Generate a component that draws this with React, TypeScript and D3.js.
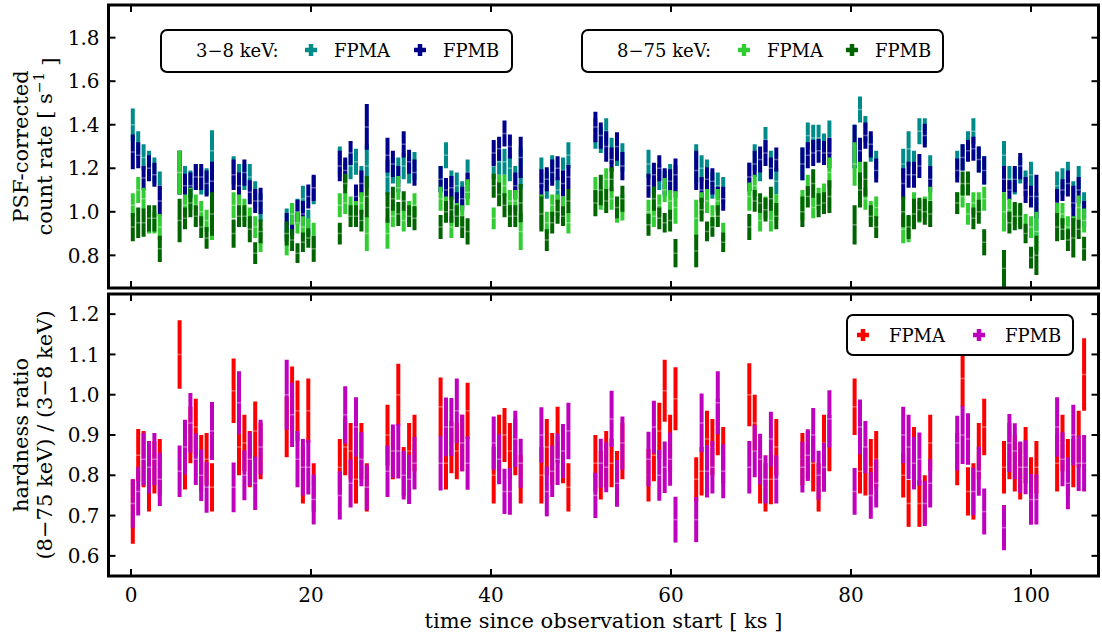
import React from 'react';
import * as d3 from 'd3';

// ---------- data ----------
const time = [
  0.2, 0.8, 1.4, 2.0, 2.6, 3.2,
  5.4, 6.0, 6.6, 7.2, 7.8, 8.4, 9.0,
  11.4, 12.0, 12.6, 13.2, 13.8, 14.4,
  17.3, 17.9, 18.5, 19.1, 19.7, 20.3,
  23.2, 23.8, 24.4, 25.0, 25.6, 26.2,
  28.5, 29.1, 29.7, 30.3, 30.9, 31.5,
  34.4, 35.0, 35.6, 36.2, 36.8, 37.4,
  40.3, 40.9, 41.5, 42.1, 42.7, 43.3,
  45.6, 46.2, 46.8, 47.4, 48.0, 48.6,
  51.6, 52.2, 52.8, 53.4, 54.0, 54.6,
  57.5, 58.1, 58.7, 59.3, 59.9, 60.5,
  62.8, 63.4, 64.0, 64.6, 65.2, 65.8,
  68.7, 69.3, 69.9, 70.5, 71.1, 71.7,
  74.6, 75.2, 75.8, 76.4, 77.0, 77.6,
  80.4, 81.0, 81.6, 82.2, 82.8,
  85.8, 86.4, 87.0, 87.6, 88.2, 88.8,
  91.8, 92.4, 93.0, 93.6, 94.2, 94.8,
  97.0, 97.6, 98.2, 98.8, 99.4, 100.0, 100.6,
  102.9, 103.5, 104.1, 104.7, 105.3, 105.9,
];

// 3-8 keV FPMA
const soft_A = [
  1.40, 1.31, 1.25, 1.22, 1.19, 1.12,
  1.18, 1.15, 1.13, 1.16, 1.14, 1.14, 1.28,
  1.19, 1.16, 1.16, 1.16, 1.08, 1.02,
  0.95, 0.98, 1.00, 1.06, 0.95, 1.10,
  1.23, 1.17, 1.21, 1.23, 1.15, 1.21,
  1.16, 1.19, 1.19, 1.21, 1.19, 1.21,
  1.15, 1.26, 1.13, 1.12, 1.08, 1.18,
  1.21, 1.23, 1.23, 1.20, 1.15, 1.20,
  1.18, 1.12, 1.20, 1.10, 1.19, 1.26,
  1.36, 1.33, 1.37, 1.28, 1.27, 1.25,
  1.22, 1.14, 1.16, 1.13, 1.16, 1.14,
  1.22, 1.20, 1.18, 1.12, 1.12, 1.10,
  1.16, 1.25, 1.20, 1.33, 1.22, 1.14,
  1.22, 1.35, 1.34, 1.34, 1.30, 1.34,
  1.30, 1.47, 1.38, 1.29, 1.22,
  1.22, 1.29, 1.22, 1.37, 1.37, 1.20,
  1.22, 1.25, 1.31, 1.37, 1.24, 1.19,
  1.26, 1.15, 1.14, 1.19, 1.13, 1.17, 0.99,
  1.12, 1.14, 1.17, 1.08, 1.15, 1.03,
];
// 3-8 keV FPMB
const soft_B = [
  1.275, 1.26, 1.155, 1.20, 1.17, 1.05,
  1.18, 1.12, 1.12, 1.16, 1.16, 1.13, 1.14,
  1.17, 1.12, 1.18, 1.09, 1.05, 1.05,
  0.93, 0.95, 1.00, 0.99, 1.07, 1.11,
  1.21, 1.19, 1.27, 1.07, 1.13, 1.39,
  1.26, 1.22, 1.15, 1.31, 1.23, 1.18,
  1.15, 1.10, 1.11, 1.03, 1.06, 1.12,
  1.27, 1.29, 1.36, 1.30, 1.12, 1.25,
  1.13, 1.15, 1.18, 1.20, 1.13, 1.16,
  1.39, 1.35, 1.30, 1.24, 1.30, 1.21,
  1.12, 1.17, 1.20, 1.14, 1.14, 1.17,
  1.19, 1.10, 1.15, 1.14, 1.06, 1.06,
  1.16, 1.22, 1.24, 1.27, 1.20, 1.24,
  1.22, 1.26, 1.27, 1.28, 1.27, 1.27,
  1.30, 1.28, 1.35, 1.31, 1.19,
  1.13, 1.17, 1.17, 1.21, 1.35, 1.15,
  1.19, 1.25, 1.28, 1.29, 1.24, 1.19,
  1.15, 1.10, 1.15, 1.21, 1.10, 1.07, 1.07,
  1.04, 1.10, 1.13, 1.04, 1.10, 0.99,
];
// 8-75 keV FPMA
const hard_A = [
  1.03, 1.10, 1.06, 0.95, 0.95, 0.93,
  1.18, 1.03, 1.06, 1.03, 1.00, 0.96, 0.97,
  1.03, 1.03, 1.01, 0.97, 0.93, 0.87,
  0.86, 0.99, 0.95, 0.93, 0.92, 0.89,
  1.03, 1.04, 1.02, 1.00, 1.04, 0.90,
  0.90, 0.98, 1.11, 0.96, 1.00, 1.03,
  1.06, 1.02, 0.93, 0.99, 0.98, 1.09,
  0.97, 1.12, 1.12, 1.05, 1.05, 0.91,
  1.00, 0.95, 1.03, 1.03, 1.02, 0.95,
  1.10, 1.06, 1.15, 1.06, 1.00, 1.02,
  1.00, 0.98, 1.03, 1.10, 1.05, 1.02,
  0.97, 1.04, 1.05, 0.98, 1.05, 0.90,
  1.07, 1.12, 0.96, 1.02, 0.96, 1.02,
  1.03, 1.12, 1.02, 1.06, 1.08, 1.18,
  1.22, 1.15, 1.06, 1.00, 1.02,
  0.92, 0.92, 1.04, 1.00, 1.02, 1.05,
  1.04, 1.07, 0.99, 1.04, 1.04, 1.06,
  1.00, 1.01, 0.99, 0.98, 0.94, 0.93, 0.91,
  0.98, 0.99, 0.93, 0.93, 1.02, 0.96,
];
// 8-75 keV FPMB
const hard_B = [
  0.93, 0.95, 0.95, 0.97, 0.97, 0.83,
  0.96, 0.97, 1.04, 0.98, 0.93, 0.88, 0.99,
  0.90, 0.98, 0.98, 0.92, 0.81, 0.91,
  0.90, 0.87, 0.81, 0.86, 0.88, 0.83,
  0.90, 1.13, 0.98, 0.98, 0.96, 1.07,
  1.02, 1.06, 0.99, 1.05, 0.98, 0.97,
  0.93, 1.00, 1.01, 0.98, 0.93, 0.91,
  1.12, 1.08, 1.03, 0.98, 0.98, 1.04,
  0.99, 0.87, 0.95, 1.00, 0.98, 1.05,
  1.04, 1.10, 1.05, 1.15, 1.02, 1.06,
  0.94, 1.06, 0.97, 0.95, 0.96, 0.81,
  0.82, 1.01, 0.91, 0.93, 0.98, 0.86,
  0.93, 1.05, 1.04, 1.01, 1.06, 0.98,
  1.00, 1.07, 1.13, 1.03, 1.04, 1.07,
  0.94, 1.10, 1.15, 0.98, 0.93,
  1.00, 0.93, 0.99, 1.01, 1.00, 0.99,
  1.04, 1.13, 1.13, 0.97, 1.00, 0.86,
  0.74, 0.95, 0.98, 0.98, 0.90, 0.79, 0.80,
  0.93, 0.92, 0.87, 0.88, 0.92, 0.83,
];
// hardness ratio FPMA
const hr_A = [
  0.71, 0.85, 0.84, 0.78, 0.82, 0.82,
  1.10, 0.83, 0.90, 0.92, 0.83, 0.84, 0.77,
  1.01, 0.87, 0.88, 0.84, 0.91, 0.86,
  0.92, 0.99, 0.96, 0.80, 0.96, 0.77,
  0.82, 0.87, 0.86, 0.79, 0.86, 0.77,
  0.90, 0.85, 1.00, 0.81, 0.86, 0.88,
  0.97, 0.83, 0.87, 0.86, 0.88, 0.96,
  0.80, 0.88, 0.90, 0.86, 0.87, 0.79,
  0.80, 0.87, 0.84, 0.90, 0.85, 0.77,
  0.83, 0.80, 0.84, 0.83, 0.80, 0.86,
  0.80, 0.85, 0.91, 1.01, 0.88, 0.99,
  0.79, 0.81, 0.89, 0.87, 0.92, 0.85,
  1.00, 0.93, 0.79, 0.77, 0.79, 0.87,
  0.84, 0.85, 0.83, 0.77, 0.88, 0.88,
  0.97, 0.81, 0.81, 0.82, 0.84,
  0.80, 0.73, 0.85, 0.73, 0.74, 0.88,
  0.84, 1.04, 0.76, 0.76, 0.86, 0.92,
  0.82, 0.86, 0.83, 0.81, 0.85, 0.78, 0.82,
  0.83, 0.88, 0.82, 0.83, 0.89, 1.05,
];
// hardness ratio FPMB
const hr_B = [
  0.73, 0.76, 0.84, 0.82, 0.84, 0.79,
  0.81, 0.87, 0.93, 0.84, 0.80, 0.77, 0.91,
  0.77, 0.98, 0.80, 0.84, 0.78, 0.87,
  1.00, 0.95, 0.84, 0.82, 0.82, 0.74,
  0.75, 0.95, 0.78, 0.92, 0.84, 0.77,
  0.81, 0.86, 0.86, 0.80, 0.79, 0.83,
  0.83, 0.92, 0.92, 0.96, 0.88, 0.83,
  0.88, 0.84, 0.76, 0.76, 0.89, 0.83,
  0.90, 0.76, 0.81, 0.84, 0.86, 0.91,
  0.75, 0.83, 0.82, 0.94, 0.78, 0.88,
  0.84, 0.92, 0.80, 0.82, 0.84, 0.69,
  0.69, 0.93, 0.81, 0.82, 0.98, 0.81,
  0.82, 0.86, 0.84, 0.79, 0.89, 0.79,
  0.82, 0.85, 0.90, 0.80, 0.82, 0.94,
  0.76, 0.92, 0.87, 0.75, 0.78,
  0.90, 0.87, 0.83, 0.84, 0.73, 0.78,
  0.88, 0.90, 0.89, 0.76, 0.81, 0.71,
  0.67, 0.88, 0.86, 0.82, 0.82, 0.74, 0.74,
  0.92, 0.84, 0.78, 0.90, 0.83, 0.83,
];

// 1-sigma errors
const err_soft_A = [
  0.075, 0.06, 0.06, 0.06, 0.06, 0.065,
  0.10, 0.06, 0.06, 0.06, 0.06, 0.06, 0.095,
  0.065, 0.06, 0.06, 0.06, 0.06, 0.065,
  0.065, 0.06, 0.06, 0.06, 0.06, 0.065,
  0.07, 0.06, 0.06, 0.06, 0.06, 0.10,
  0.08, 0.06, 0.06, 0.06, 0.06, 0.065,
  0.06, 0.06, 0.06, 0.06, 0.06, 0.06,
  0.06, 0.06, 0.06, 0.06, 0.06, 0.095,
  0.07, 0.06, 0.06, 0.06, 0.06, 0.06,
  0.07, 0.06, 0.06, 0.06, 0.06, 0.065,
  0.065, 0.06, 0.06, 0.06, 0.06, 0.075,
  0.09, 0.06, 0.06, 0.06, 0.06, 0.06,
  0.065, 0.06, 0.06, 0.06, 0.06, 0.06,
  0.075, 0.06, 0.06, 0.06, 0.06, 0.08,
  0.10, 0.06, 0.06, 0.06, 0.06,
  0.07, 0.08, 0.06, 0.06, 0.06, 0.06,
  0.06, 0.06, 0.06, 0.06, 0.06, 0.065,
  0.065, 0.06, 0.06, 0.06, 0.06, 0.06, 0.10,
  0.065, 0.06, 0.06, 0.06, 0.06, 0.06,
];
const err_soft_B = [
  0.08, 0.06, 0.055, 0.06, 0.055, 0.07,
  0.10, 0.055, 0.06, 0.06, 0.06, 0.06, 0.09,
  0.07, 0.06, 0.06, 0.055, 0.055, 0.06,
  0.065, 0.06, 0.055, 0.06, 0.055, 0.06,
  0.07, 0.06, 0.055, 0.055, 0.06, 0.105,
  0.08, 0.06, 0.06, 0.06, 0.055, 0.06,
  0.06, 0.055, 0.055, 0.06, 0.055, 0.06,
  0.06, 0.055, 0.06, 0.055, 0.06, 0.095,
  0.065, 0.055, 0.06, 0.055, 0.06, 0.055,
  0.07, 0.06, 0.07, 0.055, 0.065, 0.065,
  0.055, 0.055, 0.06, 0.06, 0.055, 0.075,
  0.09, 0.06, 0.055, 0.06, 0.055, 0.055,
  0.065, 0.06, 0.06, 0.06, 0.05, 0.055,
  0.075, 0.06, 0.06, 0.055, 0.055, 0.07,
  0.10, 0.06, 0.06, 0.06, 0.055,
  0.07, 0.06, 0.06, 0.055, 0.055, 0.06,
  0.055, 0.06, 0.05, 0.055, 0.06, 0.065,
  0.06, 0.045, 0.06, 0.06, 0.06, 0.05, 0.10,
  0.065, 0.05, 0.06, 0.08, 0.06, 0.06,
];
const err_hard_A = [
  0.055, 0.06, 0.05, 0.05, 0.05, 0.06,
  0.10, 0.05, 0.05, 0.05, 0.05, 0.05, 0.10,
  0.06, 0.05, 0.05, 0.05, 0.05, 0.055,
  0.06, 0.05, 0.05, 0.05, 0.05, 0.06,
  0.055, 0.05, 0.05, 0.05, 0.05, 0.08,
  0.07, 0.05, 0.055, 0.05, 0.05, 0.055,
  0.055, 0.05, 0.05, 0.05, 0.05, 0.06,
  0.05, 0.05, 0.05, 0.05, 0.05, 0.085,
  0.08, 0.05, 0.05, 0.05, 0.05, 0.05,
  0.06, 0.05, 0.05, 0.05, 0.05, 0.06,
  0.055, 0.05, 0.05, 0.055, 0.05, 0.075,
  0.085, 0.05, 0.055, 0.05, 0.055, 0.05,
  0.065, 0.05, 0.05, 0.05, 0.05, 0.06,
  0.07, 0.05, 0.05, 0.05, 0.05, 0.07,
  0.10, 0.08, 0.05, 0.05, 0.05,
  0.065, 0.06, 0.05, 0.05, 0.05, 0.065,
  0.05, 0.05, 0.05, 0.05, 0.05, 0.055,
  0.09, 0.05, 0.05, 0.05, 0.05, 0.05, 0.09,
  0.06, 0.05, 0.05, 0.05, 0.055, 0.055,
];
const err_hard_B = [
  0.065, 0.07, 0.065, 0.06, 0.06, 0.06,
  0.10, 0.05, 0.065, 0.05, 0.05, 0.05, 0.10,
  0.065, 0.05, 0.05, 0.06, 0.05, 0.055,
  0.055, 0.05, 0.045, 0.045, 0.045, 0.06,
  0.05, 0.045, 0.05, 0.05, 0.05, 0.095,
  0.07, 0.055, 0.055, 0.045, 0.05, 0.055,
  0.055, 0.05, 0.06, 0.05, 0.05, 0.06,
  0.055, 0.055, 0.055, 0.05, 0.05, 0.088,
  0.08, 0.05, 0.05, 0.055, 0.045, 0.055,
  0.06, 0.07, 0.055, 0.055, 0.05, 0.06,
  0.05, 0.055, 0.05, 0.045, 0.05, 0.065,
  0.075, 0.055, 0.045, 0.045, 0.05, 0.045,
  0.06, 0.05, 0.045, 0.055, 0.055, 0.06,
  0.07, 0.05, 0.065, 0.055, 0.05, 0.075,
  0.09, 0.08, 0.08, 0.05, 0.05,
  0.07, 0.055, 0.07, 0.055, 0.06, 0.06,
  0.05, 0.055, 0.055, 0.05, 0.055, 0.06,
  0.085, 0.05, 0.065, 0.06, 0.045, 0.05, 0.09,
  0.065, 0.05, 0.05, 0.09, 0.045, 0.055,
];
const err_hr_A = [
  0.08, 0.065, 0.07, 0.07, 0.065, 0.07,
  0.085, 0.065, 0.07, 0.07, 0.07, 0.065, 0.06,
  0.08, 0.07, 0.07, 0.07, 0.073, 0.07,
  0.075, 0.08, 0.075, 0.07, 0.08, 0.06,
  0.07, 0.07, 0.07, 0.06, 0.07, 0.06,
  0.075, 0.06, 0.077, 0.06, 0.07, 0.07,
  0.073, 0.065, 0.065, 0.07, 0.07, 0.07,
  0.07, 0.07, 0.067, 0.07, 0.07, 0.06,
  0.07, 0.07, 0.065, 0.07, 0.07, 0.06,
  0.07, 0.06, 0.07, 0.06, 0.06, 0.07,
  0.065, 0.065, 0.07, 0.077, 0.07, 0.078,
  0.055, 0.06, 0.07, 0.07, 0.07, 0.07,
  0.078, 0.07, 0.06, 0.06, 0.062, 0.07,
  0.065, 0.06, 0.07, 0.06, 0.07, 0.07,
  0.07, 0.055, 0.06, 0.07, 0.07,
  0.055, 0.058, 0.07, 0.058, 0.06, 0.07,
  0.065, 0.07, 0.06, 0.07, 0.07, 0.07,
  0.065, 0.07, 0.07, 0.07, 0.07, 0.065, 0.065,
  0.07, 0.07, 0.07, 0.06, 0.07, 0.09,
];
const err_hr_B = [
  0.06, 0.06, 0.065, 0.065, 0.065, 0.066,
  0.064, 0.068, 0.074, 0.064, 0.064, 0.063, 0.072,
  0.062, 0.078, 0.062, 0.066, 0.066, 0.068,
  0.087, 0.08, 0.07, 0.07, 0.068, 0.062,
  0.06, 0.071, 0.06, 0.074, 0.067, 0.056,
  0.064, 0.066, 0.068, 0.06, 0.061, 0.065,
  0.068, 0.073, 0.072, 0.08, 0.07, 0.066,
  0.066, 0.062, 0.056, 0.058, 0.07, 0.061,
  0.069, 0.062, 0.064, 0.064, 0.067, 0.07,
  0.056, 0.061, 0.062, 0.07, 0.058, 0.066,
  0.068, 0.065, 0.063, 0.064, 0.066, 0.057,
  0.056, 0.073, 0.065, 0.065, 0.078, 0.067,
  0.065, 0.065, 0.063, 0.06, 0.068, 0.06,
  0.063, 0.064, 0.067, 0.061, 0.061, 0.071,
  0.058, 0.068, 0.065, 0.058, 0.06,
  0.07, 0.08, 0.065, 0.066, 0.056, 0.06,
  0.068, 0.072, 0.064, 0.059, 0.061, 0.057,
  0.056, 0.072, 0.069, 0.064, 0.067, 0.063, 0.062,
  0.074, 0.067, 0.064, 0.075, 0.069, 0.07,
];

const xTicks = [0, 20, 40, 60, 80, 100];
const yTicksTop = [0.8, 1.0, 1.2, 1.4, 1.6, 1.8];
const yTicksBottom = [0.6, 0.7, 0.8, 0.9, 1.0, 1.1, 1.2];

// ---------- styling ----------
const FONT = "'DejaVu Serif', serif";
const C_SOFT_A = '#008b8b';
const C_SOFT_B = '#00008b';
const C_HARD_A = '#32cd32';
const C_HARD_B = '#006400';
const C_HR_A = '#ff0000';
const C_HR_B = '#bf00bf';

const W = 1102;
const H = 635;
const X0 = 108.5;
const X1 = 1098.5;
const TOP_Y0 = 5;
const TOP_Y1 = 288;
const BOT_Y0 = 294;
const BOT_Y1 = 576;
const TICK_FS = 20;
const LABEL_FS = 21;

type Scale = d3.ScaleLinear<number, number>;

function ErrorBars({ vals, errs, color, x, y }: { vals: number[]; errs: number[]; color: string; x: Scale; y: Scale }) {
  return (
    <g>
      {time.map((t, i) => {
        const cx = x(t);
        return (
          <g key={i}>
            <line x1={cx} x2={cx} y1={y(vals[i] - errs[i])} y2={y(vals[i] + errs[i])} stroke={color} strokeWidth={4} />
            <line x1={cx - 3} x2={cx + 3} y1={y(vals[i])} y2={y(vals[i])} stroke="#ffffff" strokeOpacity={0.35} strokeWidth={1.5} />
          </g>
        );
      })}
    </g>
  );
}

function PlusMarker({ cx, cy, color }: { cx: number; cy: number; color: string }) {
  const s = 6;
  return (
    <g>
      <line x1={cx - s} x2={cx + s} y1={cy} y2={cy} stroke={color} strokeWidth={4.5} />
      <line x1={cx} x2={cx} y1={cy - s} y2={cy + s} stroke={color} strokeWidth={4.5} />
    </g>
  );
}

function Frame({ x, y, y0, y1, yTicks, showXLabels }: { x: Scale; y: Scale; y0: number; y1: number; yTicks: number[]; showXLabels: boolean }) {
  const tl = 7;
  return (
    <g>
      {xTicks.map((t) => (
        <g key={'x' + t}>
          <line x1={x(t)} x2={x(t)} y1={y1} y2={y1 - tl} stroke="#000" strokeWidth={2} />
          <line x1={x(t)} x2={x(t)} y1={y0} y2={y0 + tl} stroke="#000" strokeWidth={2} />
          {showXLabels && (
            <text x={x(t)} y={y1 + 26} fontFamily={FONT} fontSize={TICK_FS} textAnchor="middle" fill="#000">
              {t}
            </text>
          )}
        </g>
      ))}
      {yTicks.map((v) => (
        <g key={'y' + v}>
          <line x1={X0} x2={X0 + tl} y1={y(v)} y2={y(v)} stroke="#000" strokeWidth={2} />
          <line x1={X1} x2={X1 - tl} y1={y(v)} y2={y(v)} stroke="#000" strokeWidth={2} />
          <text x={X0 - 9} y={y(v)} dy="0.36em" fontFamily={FONT} fontSize={TICK_FS} textAnchor="end" fill="#000">
            {v.toFixed(1)}
          </text>
        </g>
      ))}
      <rect x={X0} y={y0} width={X1 - X0} height={y1 - y0} fill="none" stroke="#000" strokeWidth={3} />
    </g>
  );
}

export default function App() {
  const x = d3.scaleLinear().domain([-2.5, 107.5]).range([X0, X1]);
  const yTop = d3.scaleLinear().domain([0.65, 1.95]).range([TOP_Y1, TOP_Y0]);
  const yBot = d3.scaleLinear().domain([0.55, 1.25]).range([BOT_Y1, BOT_Y0]);

  return (
    <div style={{ position: 'absolute', left: 0, top: 0 }}>
      <svg width={W} height={H} style={{ display: 'block', background: '#fff' }}>
        <defs>
          <clipPath id="clipTop">
            <rect x={X0} y={TOP_Y0} width={X1 - X0} height={TOP_Y1 - TOP_Y0} />
          </clipPath>
          <clipPath id="clipBot">
            <rect x={X0} y={BOT_Y0} width={X1 - X0} height={BOT_Y1 - BOT_Y0} />
          </clipPath>
        </defs>

        {/* top panel data */}
        <g clipPath="url(#clipTop)">
          <ErrorBars vals={soft_A} errs={err_soft_A} color={C_SOFT_A} x={x} y={yTop} />
          <ErrorBars vals={soft_B} errs={err_soft_B} color={C_SOFT_B} x={x} y={yTop} />
          <ErrorBars vals={hard_A} errs={err_hard_A} color={C_HARD_A} x={x} y={yTop} />
          <ErrorBars vals={hard_B} errs={err_hard_B} color={C_HARD_B} x={x} y={yTop} />
        </g>
        {/* bottom panel data */}
        <g clipPath="url(#clipBot)">
          <ErrorBars vals={hr_A} errs={err_hr_A} color={C_HR_A} x={x} y={yBot} />
          <ErrorBars vals={hr_B} errs={err_hr_B} color={C_HR_B} x={x} y={yBot} />
        </g>

        <Frame x={x} y={yTop} y0={TOP_Y0} y1={TOP_Y1} yTicks={yTicksTop} showXLabels={false} />
        <Frame x={x} y={yBot} y0={BOT_Y0} y1={BOT_Y1} yTicks={yTicksBottom} showXLabels={true} />

        {/* legends */}
        <g fontFamily={FONT} fontSize={18} fill="#000">
          <rect x={161} y={30} width={351} height={42} rx={6} fill="#fff" stroke="#000" strokeWidth={2} />
          <text x={196} y={51} dy="0.35em">3−8 keV:</text>
          <PlusMarker cx={311} cy={50} color={C_SOFT_A} />
          <text x={334} y={51} dy="0.35em">FPMA</text>
          <PlusMarker cx={420} cy={50} color={C_SOFT_B} />
          <text x={443} y={51} dy="0.35em">FPMB</text>

          <rect x={582} y={30} width={361} height={42} rx={6} fill="#fff" stroke="#000" strokeWidth={2} />
          <text x={617} y={51} dy="0.35em">8−75 keV:</text>
          <PlusMarker cx={744} cy={50} color={C_HARD_A} />
          <text x={767} y={51} dy="0.35em">FPMA</text>
          <PlusMarker cx={852} cy={50} color={C_HARD_B} />
          <text x={875} y={51} dy="0.35em">FPMB</text>

          <rect x={847} y={315} width={226} height={40} rx={6} fill="#fff" stroke="#000" strokeWidth={2} />
          <PlusMarker cx={863} cy={335} color={C_HR_A} />
          <text x={889} y={336} dy="0.35em">FPMA</text>
          <PlusMarker cx={979} cy={335} color={C_HR_B} />
          <text x={1005} y={336} dy="0.35em">FPMB</text>
        </g>

        {/* axis labels */}
        <g fontFamily={FONT} fontSize={LABEL_FS} fill="#000" textAnchor="middle">
          <text transform={`translate(21,${(TOP_Y0 + TOP_Y1) / 2}) rotate(-90)`} dy="0.35em">PSF-corrected</text>
          <text transform={`translate(45,${(TOP_Y0 + TOP_Y1) / 2}) rotate(-90)`} dy="0.35em">
            count rate [ s<tspan fontSize={14} dy="-0.6em">−1</tspan><tspan dy="0.6em"> ]</tspan>
          </text>
          <text transform={`translate(21,${(BOT_Y0 + BOT_Y1) / 2}) rotate(-90)`} dy="0.35em">hardness ratio</text>
          <text transform={`translate(45,${(BOT_Y0 + BOT_Y1) / 2}) rotate(-90)`} dy="0.35em">(8−75 keV) / (3−8 keV)</text>
          <text x={(X0 + X1) / 2} y={621} dy="0.35em">time since observation start [ ks ]</text>
        </g>
      </svg>
    </div>
  );
}
